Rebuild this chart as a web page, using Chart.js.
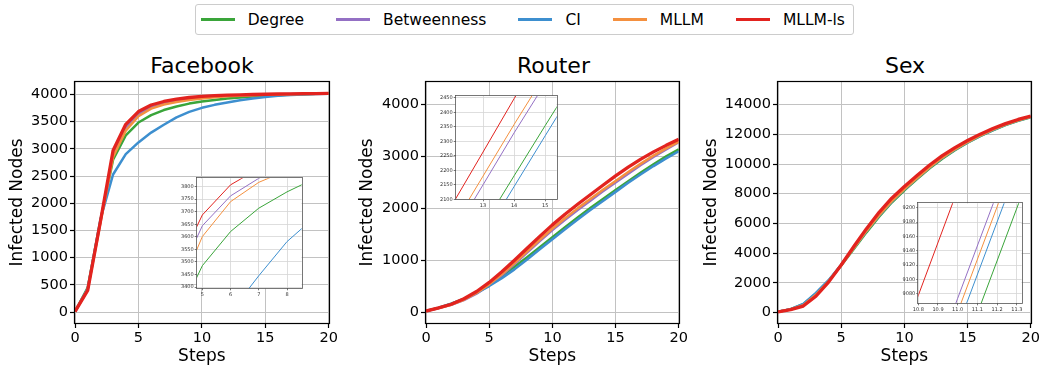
<!DOCTYPE html>
<html>
<head>
<meta charset="utf-8">
<script src="https://cdn.jsdelivr.net/npm/chart.js@4.4.1/dist/chart.umd.min.js"></script>
<style>
  body { margin: 0; background: #fff; font-family: 'DejaVu Sans', sans-serif; }
  #wrap { position: relative; width: 1042px; height: 370px; overflow: hidden; }
  canvas { position: absolute; }
  .title { position: absolute; font-size: 22px; line-height: 22px; text-align: center; color: #000; }
  #legend { position: absolute; left: 195px; top: 4px; width: 652px; height: 29px; padding-left: 4.7px;
    border: 1px solid #cccccc; border-radius: 3px; display: flex; align-items: center; font-size: 15.5px;
    color: #000; white-space: nowrap; }
  .item { display: flex; align-items: center; margin-right: 32px; flex: none; }
  .item:last-child { margin-right: 0; }
  .swatch { width: 34px; height: 2.5px; margin-right: 13px; }
</style>
</head>
<body>
<div id="wrap">
  <div id="legend"></div>
  <div class="title" style="left:75px; top:55px; width:254px;">Facebook</div>
  <div class="title" style="left:426px; top:55px; width:255px;">Router</div>
  <div class="title" style="left:778px; top:55px; width:254px;">Sex</div>
  <canvas id="fbMain"></canvas>
  <canvas id="routerMain"></canvas>
  <canvas id="sexMain"></canvas>
  <canvas id="fbInset"></canvas>
  <canvas id="routerInset"></canvas>
  <canvas id="sexInset"></canvas>
</div>
<script>
// Data ------------------------------------------------------------------------
const steps = [0, 1, 2, 3, 4, 5, 6, 7, 8, 9, 10, 11, 12, 13, 14, 15, 16, 17, 18, 19, 20];

const seriesNames = ['Degree', 'Betweenness', 'CI', 'MLLM', 'MLLM-ls'];
const seriesColors = ['#3aa53a', '#9470c4', '#3d8fcf', '#f4903f', '#e2231f'];

// Facebook
const fbDegree = [10, 450, 1680, 2800, 3250, 3485, 3621, 3714, 3779, 3833, 3870, 3900, 3925, 3945, 3962, 3975, 3988, 3998, 4006, 4012, 4016];
const fbBetweenness = [10, 420, 1660, 2900, 3400, 3644, 3763, 3833, 3885, 3920, 3945, 3962, 3975, 3985, 3993, 3999, 4004, 4008, 4012, 4015, 4018];
const fbCI = [10, 430, 1700, 2530, 2905, 3120, 3300, 3445, 3581, 3680, 3755, 3810, 3855, 3895, 3928, 3955, 3975, 3990, 4002, 4010, 4015];
const fbMLLM = [10, 410, 1640, 2850, 3336, 3601, 3740, 3817, 3864, 3900, 3928, 3950, 3966, 3978, 3988, 3996, 4002, 4007, 4011, 4014, 4017];
const fbMLLMls = [10, 400, 1660, 2970, 3452, 3687, 3807, 3872, 3915, 3945, 3965, 3978, 3988, 3995, 4000, 4005, 4009, 4012, 4015, 4017, 4020];

// Router
const routerDegree = [30, 90, 170, 265, 385, 530, 700, 880, 1065, 1255, 1447, 1640, 1827, 2007, 2181, 2354, 2525, 2690, 2850, 3000, 3135];
const routerBetweenness = [30, 85, 150, 240, 365, 525, 718, 932, 1155, 1375, 1587, 1785, 1972, 2150, 2329, 2500, 2670, 2835, 2990, 3135, 3275];
const routerCI = [30, 95, 170, 265, 380, 510, 660, 830, 1020, 1215, 1410, 1602, 1789, 1969, 2144, 2319, 2493, 2658, 2815, 2962, 3100];
const routerMLLM = [30, 87, 152, 247, 377, 542, 737, 952, 1177, 1399, 1614, 1814, 2002, 2180, 2358, 2530, 2700, 2862, 3015, 3155, 3285];
const routerMLLMls = [30, 90, 160, 265, 405, 580, 785, 1007, 1237, 1465, 1685, 1890, 2080, 2263, 2447, 2625, 2793, 2948, 3088, 3213, 3328];

// Sex
const sexDegree = [50, 225, 560, 1280, 2140, 3170, 4280, 5400, 6450, 7410, 8235, 8980, 9710, 10360, 10930, 11430, 11880, 12270, 12620, 12910, 13150];
const sexBetweenness = [50, 220, 520, 1230, 2120, 3200, 4380, 5530, 6580, 7520, 8329, 9074, 9804, 10450, 11010, 11500, 11940, 12330, 12670, 12960, 13200];
const sexCI = [50, 230, 580, 1320, 2180, 3220, 4340, 5470, 6520, 7470, 8289, 9034, 9764, 10410, 10970, 11460, 11900, 12290, 12630, 12920, 13160];
const sexMLLM = [50, 210, 500, 1200, 2100, 3180, 4350, 5500, 6555, 7500, 8310, 9055, 9785, 10430, 10990, 11480, 11920, 12310, 12650, 12940, 13180];
const sexMLLMls = [50, 200, 440, 1100, 2050, 3200, 4450, 5650, 6750, 7700, 8490, 9225, 9935, 10560, 11100, 11580, 12010, 12390, 12720, 13000, 13230];

// Tick labels
const mainXTicks = [0, 5, 10, 15, 20];
const fbYTicks = [0, 500, 1000, 1500, 2000, 2500, 3000, 3500, 4000];
const routerYTicks = [0, 1000, 2000, 3000, 4000];
const sexYTicks = [0, 2000, 4000, 6000, 8000, 10000, 12000, 14000];
const fbInsetXTicks = [5, 6, 7, 8];
const fbInsetYTicks = [3400, 3450, 3500, 3550, 3600, 3650, 3700, 3750, 3800];
const routerInsetXTicks = [13, 14, 15];
const routerInsetYTicks = [2100, 2150, 2200, 2250, 2300, 2350, 2400, 2450];
const sexInsetXTicks = [10.8, 10.9, 11.0, 11.1, 11.2, 11.3];
const sexInsetYTicks = [9080, 9100, 9120, 9140, 9160, 9180, 9200];

// Legend ----------------------------------------------------------------------
const legendEl = document.getElementById('legend');
seriesNames.forEach((name, i) => {
  const item = document.createElement('div');
  item.className = 'item';
  item.innerHTML = '<div class="swatch" style="background:' + seriesColors[i] + '"></div><span>' + name + '</span>';
  legendEl.appendChild(item);
});

// Helpers ---------------------------------------------------------------------
Chart.defaults.font.family = "'DejaVu Sans', sans-serif";

// draws the box round the plot area, and a white fill for the insets
const framePlugin = {
  id: 'frame',
  beforeDraw(chart, args, opts) {
    if (!opts.fill) return;
    const a = chart.chartArea;
    chart.ctx.save();
    chart.ctx.fillStyle = opts.fill;
    chart.ctx.fillRect(a.left, a.top, a.right - a.left, a.bottom - a.top);
    chart.ctx.restore();
  },
  afterDatasetsDraw(chart, args, opts) {
    const a = chart.chartArea;
    const ctx = chart.ctx;
    ctx.save();
    ctx.strokeStyle = opts.color;
    ctx.lineWidth = opts.width;
    ctx.strokeRect(Math.round(a.left) - 0.5, Math.round(a.top) - 0.5,
      Math.round(a.right) - Math.round(a.left) + 1, Math.round(a.bottom) - Math.round(a.top) + 1);
    ctx.restore();
  }
};

function placeCanvas(id, box, area) {
  const c = document.getElementById(id);
  c.width = box.r - box.l;
  c.height = box.b - box.t;
  c.style.left = box.l + 'px';
  c.style.top = box.t + 'px';
  return {
    padding: { left: 0, top: area.t - box.t, right: box.r - area.r, bottom: 0 },
    yWidth: area.l - box.l,
    xHeight: box.b - area.b
  };
}

function insetBox(area) {
  return { l: Math.floor(area.l) - 24, t: Math.floor(area.t) - 4, r: Math.ceil(area.r) + 4, b: Math.ceil(area.b) + 13 };
}

function axis(o, fit, isX) {
  const cfg = {
    type: 'linear',
    min: o.min,
    max: o.max,
    afterBuildTicks: s => { s.ticks = o.ticks.map(v => ({ value: v })); },
    afterFit: s => { if (isX) s.height = fit.xHeight; else s.width = fit.yWidth; },
    grid: { color: o.gridColor, lineWidth: o.gridWidth, tickLength: o.tickLength, tickColor: o.tickColor, tickWidth: o.tickWidth },
    border: { display: false },
    ticks: {
      font: { size: o.fontSize }, color: o.labelColor, padding: o.pad,
      autoSkip: false, maxRotation: 0, minRotation: 0,
      callback: o.fmt || (v => String(v))
    }
  };
  if (o.title) {
    cfg.title = { display: true, text: o.title, color: '#000', font: { size: 17 }, padding: o.titlePad };
  }
  return cfg;
}

function lineChart(id, box, area, series, o) {
  const fit = placeCanvas(id, box, area);
  return new Chart(document.getElementById(id), {
    type: 'line',
    data: {
      datasets: series.map((vals, i) => ({
        label: seriesNames[i],
        data: steps.map((s, j) => ({ x: s, y: vals[j] })),
        borderColor: seriesColors[i],
        backgroundColor: seriesColors[i],
        borderWidth: o.lineWidths[i],
        borderJoinStyle: 'round',
        pointRadius: 0,
        tension: 0,
        fill: false,
        order: series.length - 1 - i,
        clip: o.clip
      }))
    },
    options: {
      responsive: false,
      animation: false,
      devicePixelRatio: 1,
      layout: { padding: fit.padding, autoPadding: false },
      plugins: {
        legend: { display: false },
        tooltip: { enabled: false },
        frame: { color: o.frameColor, width: o.frameWidth, fill: o.fill }
      },
      scales: {
        x: axis(Object.assign({}, o.style, o.x), fit, true),
        y: axis(Object.assign({}, o.style, o.y), fit, false)
      }
    },
    plugins: [framePlugin]
  });
}

// Main charts -----------------------------------------------------------------
const mainStyle = {
  gridColor: '#c2c2c2', gridWidth: 1, tickLength: 5, tickColor: '#000', tickWidth: 1.2,
  fontSize: 14.5, labelColor: '#000', pad: 2
};
const mainOpts = (yMin, yMax, yTicks) => ({
  style: mainStyle,
  lineWidths: [2.5, 2.5, 2.5, 2.5, 3.3],
  frameColor: '#000', frameWidth: 1.2,
  x: { min: 0, max: 20, ticks: mainXTicks, title: 'Steps', titlePad: { top: 0, bottom: 3.3 } },
  y: { min: yMin, max: yMax, ticks: yTicks, title: 'Infected Nodes', titlePad: { top: 7.6, bottom: 0 } }
});

lineChart('fbMain', { l: 0, t: 70, r: 340, b: 370 }, { l: 75, t: 82, r: 329, b: 323 },
  [fbDegree, fbBetweenness, fbCI, fbMLLM, fbMLLMls], mainOpts(-200, 4230, fbYTicks));

lineChart('routerMain', { l: 350, t: 70, r: 690, b: 370 }, { l: 426, t: 82, r: 681, b: 323 },
  [routerDegree, routerBetweenness, routerCI, routerMLLM, routerMLLMls], mainOpts(-200, 4430, routerYTicks));

lineChart('sexMain', { l: 694, t: 70, r: 1042, b: 370 }, { l: 778, t: 82, r: 1032, b: 323 },
  [sexDegree, sexBetweenness, sexCI, sexMLLM, sexMLLMls], mainOpts(-700, 15520, sexYTicks));

// Insets ----------------------------------------------------------------------
const insetStyle = {
  gridColor: '#d6d6d6', gridWidth: 0.8, tickLength: 2, tickColor: '#555', tickWidth: 0.8,
  fontSize: 5, labelColor: '#333', pad: 1
};
const insetOpts = (x, y) => ({
  style: insetStyle,
  lineWidths: [1, 1, 1, 1, 1],
  frameColor: '#555', frameWidth: 0.8, fill: '#fff', clip: 0,
  x: x, y: y
});

const fbInsetArea = { l: 196.7, t: 178.3, r: 301.7, b: 288.3 };
lineChart('fbInset', insetBox(fbInsetArea), fbInsetArea,
  [fbDegree, fbBetweenness, fbCI, fbMLLM, fbMLLMls],
  insetOpts({ min: 4.8, max: 8.52, ticks: fbInsetXTicks }, { min: 3395, max: 3833, ticks: fbInsetYTicks }));

const routerInsetArea = { l: 455.7, t: 96, r: 556.7, b: 199.3 };
lineChart('routerInset', insetBox(routerInsetArea), routerInsetArea,
  [routerDegree, routerBetweenness, routerCI, routerMLLM, routerMLLMls],
  insetOpts({ min: 12.12, max: 15.37, ticks: routerInsetXTicks }, { min: 2100, max: 2456, ticks: routerInsetYTicks }));

const sexInsetArea = { l: 918.3, t: 203.3, r: 1021.7, b: 303.3 };
lineChart('sexInset', insetBox(sexInsetArea), sexInsetArea,
  [sexDegree, sexBetweenness, sexCI, sexMLLM, sexMLLMls],
  insetOpts({ min: 10.8, max: 11.325, ticks: sexInsetXTicks, fmt: v => v.toFixed(1) },
    { min: 9067, max: 9206, ticks: sexInsetYTicks }));
</script>
</body>
</html>
